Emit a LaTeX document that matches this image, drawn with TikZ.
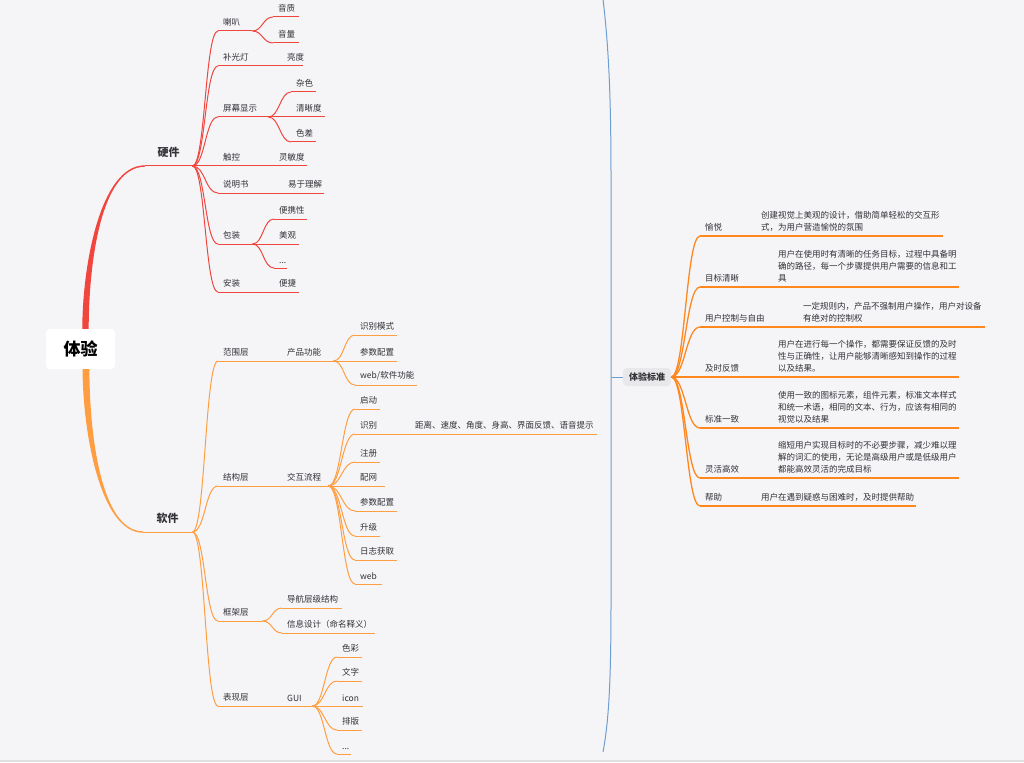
\documentclass[tikz,border=0pt]{standalone}
\usepackage{fontspec}
\setmainfont{Noto Sans CJK SC}
\usetikzlibrary{calc}
\definecolor{bg}{RGB}{245,245,248}
\definecolor{txt}{RGB}{50,50,55}
\definecolor{redc}{RGB}{240,70,62}
\definecolor{orc}{RGB}{255,158,64}
\definecolor{ror}{RGB}{255,135,30}
\definecolor{blc}{RGB}{110,158,208}
\definecolor{boxg}{RGB}{232,232,235}
\newcommand{\smallfs}{\fontsize{8.5}{12}\selectfont}
\newcommand{\tpn}[7]{%
  \pgfmathsetmacro{\tpw}{#3-#2-10}%
  \node[topic,#6,text width=\tpw pt,anchor=south west] (#1) at (#2,#4) {#7};
  \draw[#5] (#1.south west) -- (#1.south east);
}
\newcommand{\cn}[4]{\draw[#4] (#1.south east) .. controls ($(#1.south east)+(#3,0)$) and ($(#2.south west)+(-#3,0)$) .. (#2.south west);}
\newcommand{\rcn}[1]{\draw[rtl] (rt.east) .. controls ($(rt.east)+(14,0)$) and ($(#1.south west)+(-14,0)$) .. (#1.south west);}
\tikzset{
  topic/.style={inner xsep=5pt, inner ysep=4.5pt, align=left, font=\smallfs, text=txt},
  mainb/.style={align=center, font=\bfseries\fontsize{11}{13}\selectfont, inner ysep=8.5pt},
  rl/.style={draw=redc, line width=1pt},
  ol/.style={draw=orc, line width=1pt},
  rtl/.style={draw=ror, line width=1.3pt},
}
\begin{document}
\begin{tikzpicture}[x=1pt,y=-1pt]
\fill[bg] (0,0) rectangle (1024,762);
\useasboundingbox (0,0) rectangle (1024,762);
\draw[black!12, line width=1.2pt] (0,761) -- (1024,761);

% root
\node[fill=white, rounded corners=4pt, minimum width=69pt, minimum height=40pt, inner sep=0pt,
      font=\bfseries\fontsize{17}{20}\selectfont, text=black] (root) at (80.5,349) {体验};
\coordinate (rtop) at ($(root.north)+(5,0)$);
\coordinate (rbot) at ($(root.south)+(5.5,0)$);

% ---------------- hardware
\tpn{hw}{145}{192}{166}{rl}{mainb}{硬件}
\fill[redc] ($(rtop)+(-3.2,0)$) .. controls ($(rtop)+(-3.2,-62)$) and ($(hw.south west)+(-45,-1)$) .. ($(hw.south west)+(0,-0.7)$)
  -- ($(hw.south west)+(0,0.7)$) .. controls ($(hw.south west)+(-45,1)$) and ($(rtop)+(3.2,-62)$) .. ($(rtop)+(3.2,0)$) -- cycle;

\tpn{h1}{218}{252}{31}{rl}{}{喇叭}
\tpn{h11}{273}{299}{17}{rl}{}{音质}
\tpn{h12}{273}{299}{43}{rl}{}{音量}
\tpn{h2}{218}{282}{66}{rl}{}{补光灯}
\tpn{h21}{282}{303}{66}{rl}{}{亮度}
\tpn{h3}{218}{268}{117}{rl}{}{屏幕显示}
\tpn{h31}{291}{316}{92}{rl}{}{杂色}
\tpn{h32}{291}{325}{117}{rl}{}{清晰度}
\tpn{h33}{291}{316}{142}{rl}{}{色差}
\tpn{h4}{218}{274}{166}{rl}{}{触控}
\tpn{h41}{274}{307}{166}{rl}{}{灵敏度}
\tpn{h5}{218}{283}{193}{rl}{}{说明书}
\tpn{h51}{283}{324}{193}{rl}{}{易于理解}
\tpn{h6}{218}{252}{244}{rl}{}{包装}
\tpn{h61}{274}{307}{219}{rl}{}{便携性}
\tpn{h62}{274}{299}{244}{rl}{}{美观}
\tpn{h63}{274}{287}{268}{rl}{}{...}
\tpn{h7}{218}{274}{292}{rl}{}{安装}
\tpn{h71}{274}{299}{292}{rl}{}{便捷}

\foreach \c in {h1,h2,h3,h4,h5,h6,h7} {\cn{hw}{\c}{13}{rl}}
\cn{h1}{h11}{10}{rl}
\cn{h1}{h12}{10}{rl}
\cn{h2}{h21}{0}{rl}
\cn{h3}{h31}{11}{rl}
\cn{h3}{h32}{11}{rl}
\cn{h3}{h33}{11}{rl}
\cn{h4}{h41}{0}{rl}
\cn{h5}{h51}{0}{rl}
\cn{h6}{h61}{11}{rl}
\cn{h6}{h62}{11}{rl}
\cn{h6}{h63}{11}{rl}
\cn{h7}{h71}{0}{rl}

% ---------------- software
\tpn{sw}{143}{192}{532}{ol}{mainb}{软件}
\fill[orc] ($(rbot)+(-3.4,0)$) .. controls ($(rbot)+(-3.4,61)$) and ($(sw.south west)+(-43,1)$) .. ($(sw.south west)+(0,0.7)$)
  -- ($(sw.south west)+(0,-0.7)$) .. controls ($(sw.south west)+(-43,-1)$) and ($(rbot)+(3.4,61)$) .. ($(rbot)+(3.4,0)$) -- cycle;

\tpn{s1}{218}{282}{361}{ol}{}{范围层}
\tpn{s1a}{282}{333}{361}{ol}{}{产品功能}
\tpn{s11}{355}{397}{335}{ol}{}{识别模式}
\tpn{s12}{355}{397}{361}{ol}{}{参数配置}
\tpn{s13}{355}{417}{385}{ol}{}{web/软件功能}

\tpn{s2}{218}{282}{486}{ol}{}{结构层}
\tpn{s2a}{282}{328}{486}{ol}{}{交互流程}
\tpn{s21}{355}{380}{409}{ol}{}{启动}
\tpn{s22}{355}{410}{434}{ol}{}{识别}
\tpn{s22a}{410}{597}{434}{ol}{}{距离、速度、角度、身高、界面反馈、语音提示}
\tpn{s23}{355}{380}{462}{ol}{}{注册}
\tpn{s24}{355}{385}{486}{ol}{}{配网}
\tpn{s25}{355}{397}{511}{ol}{}{参数配置}
\tpn{s26}{355}{380}{536}{ol}{}{升级}
\tpn{s27}{355}{397}{560}{ol}{}{日志获取}
\tpn{s28}{355}{382}{584}{ol}{}{web}

\tpn{s3}{218}{262}{621}{ol}{}{框架层}
\tpn{s31}{282}{342}{608}{ol}{}{导航层级结构}
\tpn{s32}{282}{375}{633}{ol}{}{信息设计（命名释义）}

\tpn{s4}{218}{282}{706}{ol}{}{表现层}
\tpn{s4a}{282}{312}{706}{ol}{}{GUI}
\tpn{s41}{337}{362}{657}{ol}{}{色彩}
\tpn{s42}{337}{362}{681}{ol}{}{文字}
\tpn{s43}{337}{363}{706}{ol}{}{icon}
\tpn{s44}{337}{362}{730}{ol}{}{排版}
\tpn{s45}{337}{351}{754}{ol}{}{...}

\foreach \c in {s1,s2,s3,s4} {\cn{sw}{\c}{13}{ol}}
\cn{s1}{s1a}{0}{ol}
\foreach \c in {s11,s12,s13} {\cn{s1a}{\c}{11}{ol}}
\cn{s2}{s2a}{0}{ol}
\foreach \c in {s21,s22,s23,s24,s25,s26,s27,s28} {\cn{s2a}{\c}{13}{ol}}
\cn{s22}{s22a}{0}{ol}
\cn{s3}{s31}{10}{ol}
\cn{s3}{s32}{10}{ol}
\cn{s4}{s4a}{0}{ol}
\foreach \c in {s41,s42,s43,s44,s45} {\cn{s4a}{\c}{12}{ol}}

% ---------------- right side
\node[fill=boxg, rounded corners=4pt, minimum width=48pt, minimum height=18pt, inner sep=1pt,
      font=\bfseries\fontsize{9}{10}\selectfont, text=txt] (rt) at (647,377) {体验标准};
\coordinate (brm) at (611,377);
\draw[blc, line width=1pt] (603,-1) .. controls (609,50) and (611,100) .. (611,180) -- (611,600)
   .. controls (611,680) and (609,720) .. (603,752);
\draw[blc, line width=0.8pt] (brm) -- (rt.west);

\tpn{r1}{700}{756}{236}{rtl}{}{愉悦}
\tpn{r1d}{756}{943}{236}{rtl}{}{创建视觉上美观的设计，借助简单轻松的交互形\\式，为用户营造愉悦的氛围}
\tpn{r2}{700}{773}{287}{rtl}{}{目标清晰}
\tpn{r2d}{773}{959}{287}{rtl}{}{用户在使用时有清晰的任务目标，过程中具备明\\确的路径，每一个步骤提供用户需要的信息和工\\具}
\tpn{r3}{700}{798}{327}{rtl}{}{用户控制与自由}
\tpn{r3d}{798}{985}{327}{rtl}{}{一定规则内，产品不强制用户操作，用户对设备\\有绝对的控制权}
\tpn{r4}{700}{773}{377}{rtl}{}{及时反馈}
\tpn{r4d}{773}{959}{377}{rtl}{}{用户在进行每一个操作，都需要保证反馈的及时\\性与正确性，让用户能够清晰感知到操作的过程\\以及结果。}
\tpn{r5}{700}{773}{428}{rtl}{}{标准一致}
\tpn{r5d}{773}{959}{428}{rtl}{}{使用一致的图标元素，组件元素，标准文本样式\\和统一术语，相同的文本、行为，应该有相同的\\视觉以及结果}
\tpn{r6}{700}{773}{478}{rtl}{}{灵活高效}
\tpn{r6d}{773}{959}{478}{rtl}{}{缩短用户实现目标时的不必要步骤，减少难以理\\解的词汇的使用，无论是高级用户或是低级用户\\都能高效灵活的完成目标}
\tpn{r7}{700}{756}{506}{rtl}{}{帮助}
\tpn{r7d}{756}{916}{506}{rtl}{}{用户在遇到疑惑与困难时，及时提供帮助}

\foreach \c in {r1,r2,r3,r4,r5,r6,r7} {\rcn{\c}}
\foreach \a/\b in {r1/r1d,r2/r2d,r3/r3d,r4/r4d,r5/r5d,r6/r6d,r7/r7d} {\cn{\a}{\b}{0}{rtl}}
\end{tikzpicture}
\end{document}
